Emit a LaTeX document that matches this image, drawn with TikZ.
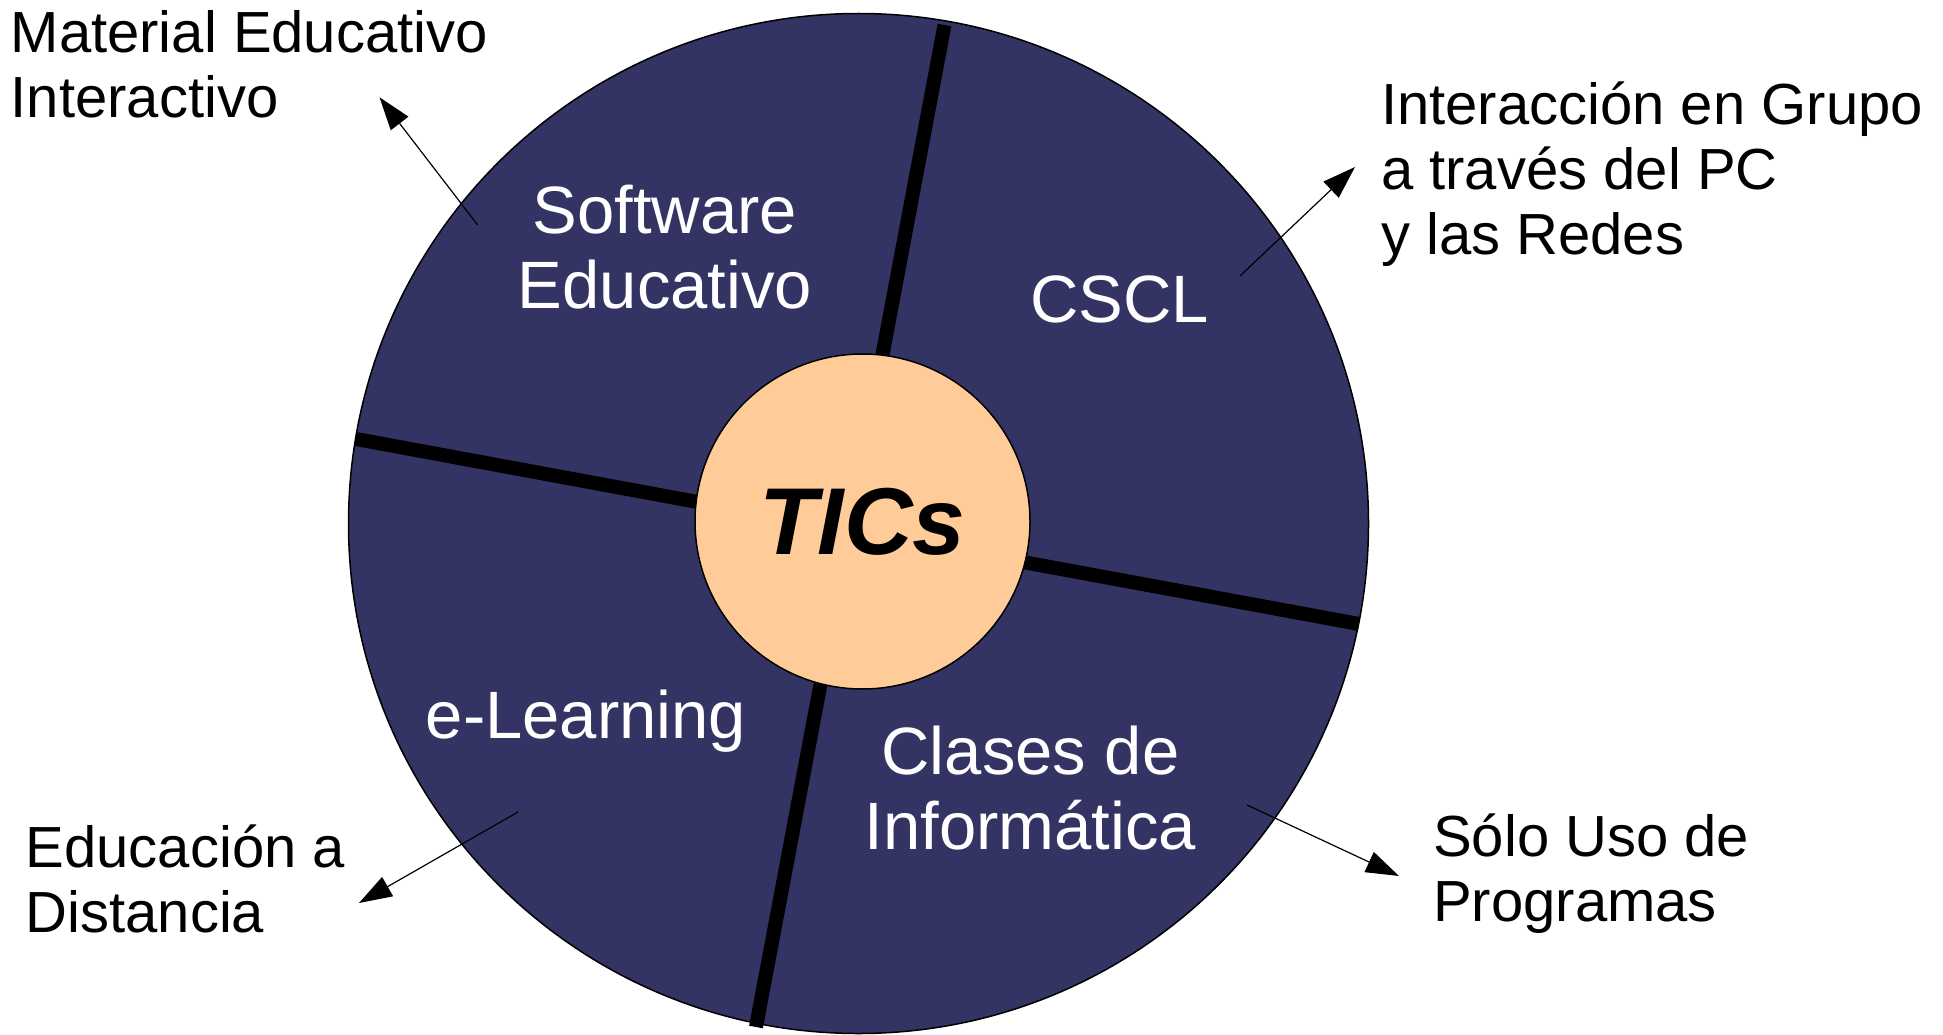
\documentclass[tikz,border=0pt]{standalone}
\usepackage{fontspec}
\setmainfont{Liberation Sans}
\usetikzlibrary{arrows.meta}
\definecolor{navy}{RGB}{52,52,100}
\definecolor{peach}{RGB}{255,204,153}
\tikzstyle{disk} = [circle, draw=black, line width=1.5pt, fill=navy, minimum size=1020pt, inner sep=0pt]
\tikzstyle{hub} = [circle, draw=black, line width=1.5pt, fill=peach, minimum size=335pt, inner sep=0pt, font=\fontsize{95}{100}\selectfont\bfseries\itshape]
\tikzstyle{sector} = [text=white, align=center, anchor=north, inner sep=0pt, font=\fontsize{67}{75}\selectfont]
\tikzstyle{note} = [align=left, anchor=north west, inner sep=0pt, font=\fontsize{58}{65}\selectfont]
\tikzstyle{divider} = [line width=14pt]
\tikzstyle{arrow} = [line width=1.2pt, -{Triangle[length=33pt, width=22pt]}]

\begin{document}
\begin{tikzpicture}[x=1pt, y=-1pt]
  \useasboundingbox (0,0) rectangle (1943,1035);

  \node (disk) [disk] at (858.5,523.5) {};
  \draw [divider] (944.5,25) -- (756,1027);
  \draw [divider] (356,439) -- (1359,624);
  \node (tics) [hub] at (862.5,521.5) {TICs};

  \node (software) [sector] at (665,185) {Software\\Educativo};
  \node (cscl) [sector] at (1119.5,276) {CSCL};
  \node (elearning) [sector] at (586,690) {e-Learning};
  \node (clases) [sector] at (1030.5,726) {Clases de\\Informática};

  \node (material) [note] at (10.5,10) {Material Educativo\\Interactivo};
  \node (grupo) [note] at (1381,82) {Interacción en Grupo\\a través del PC\\y las Redes};
  \node (distancia) [note] at (25.5,825) {Educación a\\Distancia};
  \node (programas) [note] at (1433,814) {Sólo Uso de\\Programas};

  \coordinate (swtail) at (477.7,225);
  \coordinate (swtip) at (379.5,97.3);
  \coordinate (cscltail) at (1240,276);
  \coordinate (cscltip) at (1355,167);
  \coordinate (eltail) at (518,812);
  \coordinate (eltip) at (359,903);
  \coordinate (cltail) at (1247,805);
  \coordinate (cltip) at (1399,876);

  \draw [arrow] (swtail) -- (swtip);
  \draw [arrow] (cscltail) -- (cscltip);
  \draw [arrow] (eltail) -- (eltip);
  \draw [arrow] (cltail) -- (cltip);
\end{tikzpicture}
\end{document}
